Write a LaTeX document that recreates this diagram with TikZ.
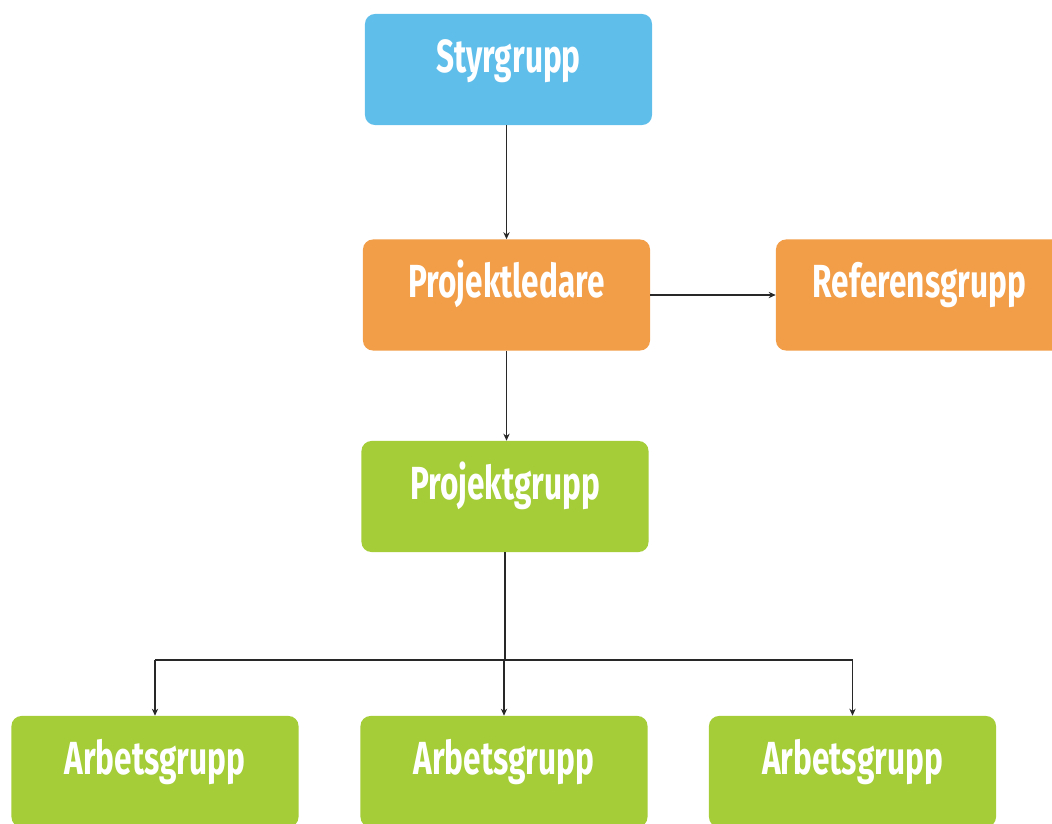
\documentclass[tikz,border=0pt]{standalone}
\usepackage{fontspec}
\setmainfont[FakeStretch=0.68]{Fira Sans}
\usepackage{tikz}
\usetikzlibrary{arrows.meta}
\usepackage{xcolor}
\definecolor{styr}{RGB}{96, 190, 235}
\definecolor{ledare}{RGB}{242, 157, 72}
\definecolor{grupp}{RGB}{164, 205, 56}
\definecolor{linje}{RGB}{40, 40, 40}

\begin{document}
\begin{tikzpicture}[x=0.025cm, y=-0.025cm,
  box/.style={rounded corners=0.25cm, minimum width=7.175cm, minimum height=2.775cm,
    inner sep=0pt, text=white, font=\fontsize{33}{33}\bfseries\selectfont,
    text height=22pt, text depth=18pt},
  pil/.style={draw=linje, line width=1.1pt, -{Stealth[length=5pt, width=4.5pt]}}]
\useasboundingbox (0, 0) rectangle (1052, 823);
\clip (0, 0) rectangle (1052, 823);

\node [box, fill=styr] (styr) at (508.5, 69.5) {Styrgrupp};
\node [box, fill=ledare] (pl) at (506.5, 295) {Projektledare};
\node [box, fill=ledare] (ref) at (919.5, 295) {Referensgrupp};
\node [box, fill=grupp] (pg) at (505, 496.5) {Projektgrupp};
\node [box, fill=grupp] (a1) at (155, 771.5) {Arbetsgrupp};
\node [box, fill=grupp] (a2) at (504, 771.5) {Arbetsgrupp};
\node [box, fill=grupp] (a3) at (852.5, 771.5) {Arbetsgrupp};

\draw [pil] (pl.north |- styr.south) -- (pl.north);
\draw [pil] (pl.east) -- (ref.west);
\draw [pil] (pl.south) -- (pl.south |- pg.north);

% fordelning till arbetsgrupperna
\coordinate (bus) at (505, 660);
\draw [draw=linje, line width=1.1pt] (pg.south) -- (pg.south |- bus);
\draw [draw=linje, line width=1.1pt] (a1.north |- bus) -- (a3.north |- bus);
\foreach \a in {a1, a2, a3}
  \draw [pil] (\a.north |- bus) -- (\a.north);
\end{tikzpicture}
\end{document}
